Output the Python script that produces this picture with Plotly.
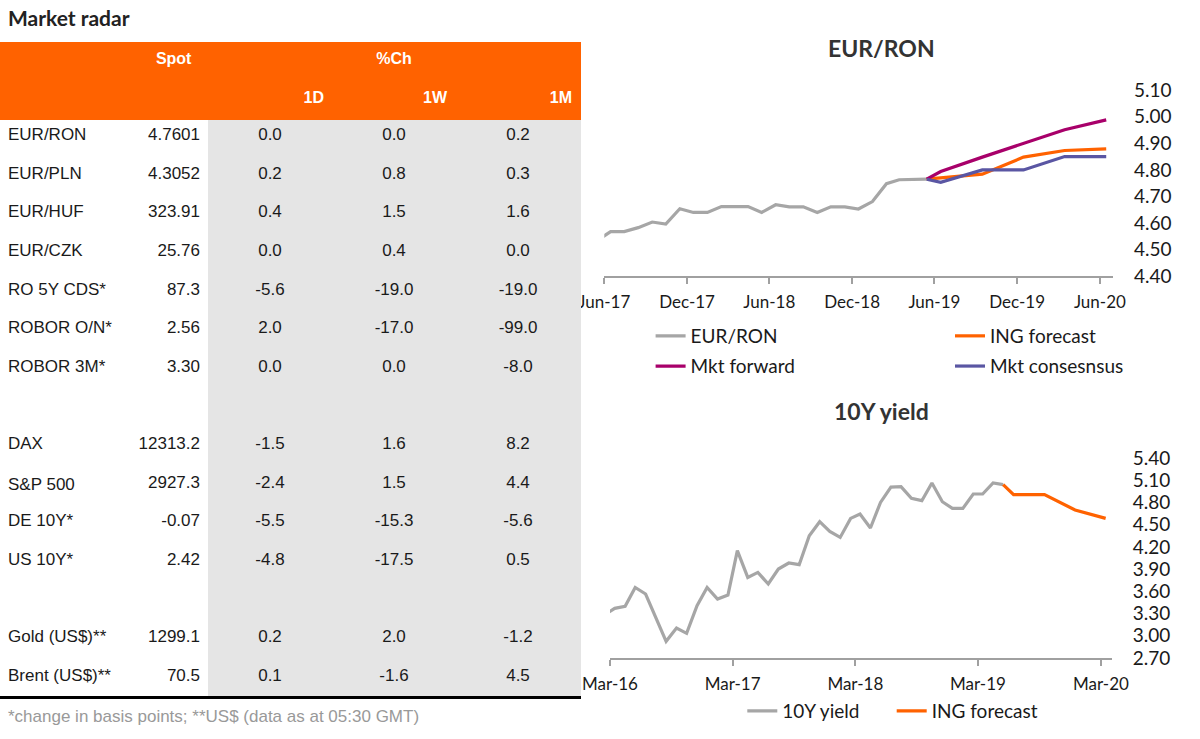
import pandas as pd
import plotly.graph_objects as go

# ---------------- Table data ----------------
row_labels = ["EUR/RON", "EUR/PLN", "EUR/HUF", "EUR/CZK", "RO 5Y CDS*", "ROBOR O/N*",
              "ROBOR 3M*", "", "DAX", "S&P 500", "DE 10Y*", "US 10Y*", "",
              "Gold (US$)**", "Brent (US$)**"]
spot = ["4.7601", "4.3052", "323.91", "25.76", "87.3", "2.56", "3.30", "",
        "12313.2", "2927.3", "-0.07", "2.42", "", "1299.1", "70.5"]
chg_1d = [0.0, 0.2, 0.4, 0.0, -5.6, 2.0, 0.0, None, -1.5, -2.4, -5.5, -4.8, None, 0.2, 0.1]
chg_1w = [0.0, 0.8, 1.5, 0.4, -19.0, -17.0, 0.0, None, 1.6, 1.5, -15.3, -17.5, None, 2.0, -1.6]
chg_1m = [0.2, 0.3, 1.6, 0.0, -19.0, -99.0, -8.0, None, 8.2, 4.4, -5.6, 0.5, None, -1.2, 4.5]
header_top = ["", "Spot", "", "%Ch", ""]
header_sub = ["", "", "1D", "1W", "1M"]

# ---------------- EUR/RON chart data ----------------
eurron_dates = pd.date_range("2017-05-01", "2019-05-01", freq="MS") + pd.Timedelta(days=14)
eurron_hist = [4.533, 4.568, 4.568, 4.583, 4.604, 4.596, 4.654, 4.640,
               4.640, 4.662, 4.662, 4.662, 4.640, 4.669, 4.661, 4.661, 4.640, 4.661, 4.661, 4.653,
               4.681, 4.748, 4.763, 4.765, 4.765]
eurron_fc_dates = ["2019-05-15", "2019-06-15", "2019-09-15", "2019-12-15", "2020-03-15", "2020-06-15"]
ing_forecast = [4.765, 4.770, 4.784, 4.848, 4.873, 4.879]
mkt_forward = [4.765, 4.794, 4.848, 4.901, 4.951, 4.988]
mkt_consensus = [4.765, 4.753, 4.800, 4.800, 4.850, 4.850]

# ---------------- 10Y yield chart data ----------------
y10_dates = pd.date_range("2016-02-01", "2019-05-01", freq="MS") + pd.Timedelta(days=14)
y10_hist = [3.285, 3.370, 3.397, 3.653, 3.564, 3.249, 2.925, 3.105, 3.033, 3.406, 3.653,
            3.496, 3.550, 4.149, 3.788, 3.856, 3.699, 3.901, 3.982, 3.960, 4.351, 4.540, 4.409,
            4.328, 4.585, 4.644, 4.455, 4.801, 5.008, 5.013, 4.855, 4.824, 5.063, 4.810, 4.720,
            4.720, 4.914, 4.914, 5.063, 5.040]
y10_fc_dates = ["2019-05-15", "2019-06-15", "2019-09-15", "2019-12-15", "2020-03-15"]
y10_forecast = [5.040, 4.905, 4.905, 4.698, 4.585]

# ---------------- colours ----------------
ORANGE = "#ff6200"
GREY_LINE = "#a6a6a6"
MAGENTA = "#a8006a"
BLUE = "#5a56a3"
CELL_GREY = "#e5e5e5"
TXT = "#1a1a1a"

W, H = 1200, 739


def px_x(p):
    return p / W


def px_y(p):
    return 1 - p / H


fig = go.Figure()

# ---------------- Table ----------------
def fmt(v):
    return "" if v is None else f"{v:.1f}"

TABLE_FONT = "Liberation Sans, Arial"
col_widths = [140, 68, 124, 124, 124]
col_values = [row_labels, spot,
              [fmt(v) for v in chg_1d], [fmt(v) for v in chg_1w], [fmt(v) for v in chg_1m]]
fill_cols = ["white", "white", CELL_GREY, CELL_GREY, CELL_GREY]
T0 = 42  # top of table, px

# top header row (Spot / %Ch)
fig.add_trace(go.Table(
    domain=dict(x=[0, px_x(580)], y=[px_y(T0 + 38.8), px_y(T0)]),
    columnwidth=col_widths,
    header=dict(
        values=["<b>" + h + "</b>" if h else "" for h in header_top],
        fill_color=ORANGE, line=dict(color=ORANGE, width=1),
        align="center",
        font=dict(family=TABLE_FONT, size=16, color="white"),
        height=38.8,
    ),
    cells=dict(values=[[] for _ in range(5)], height=1, line=dict(width=0),
               fill_color="white"),
))

# second header row (1D / 1W / 1M) and body
fig.add_trace(go.Table(
    domain=dict(x=[0, px_x(580)], y=[px_y(712), px_y(T0 + 38.8)]),
    columnwidth=col_widths,
    header=dict(
        values=["<b>" + h + "</b>" if h else "" for h in header_sub],
        fill_color=ORANGE, line=dict(color=ORANGE, width=1),
        align=["left", "center", "right", "right", "right"],
        font=dict(family=TABLE_FONT, size=16, color="white"),
        height=38.6,
    ),
    cells=dict(
        values=col_values,
        fill_color=fill_cols,
        line=dict(color=fill_cols, width=1),
        align=["left", "right", "center", "center", "center"],
        font=dict(family=TABLE_FONT, size=17, color=TXT),
        height=38.6,
    ),
))

# ---------------- EUR/RON lines ----------------
fig.add_trace(go.Scatter(x=eurron_dates, y=eurron_hist, mode="lines", name="EUR/RON",
                         line=dict(color=GREY_LINE, width=3.2), xaxis="x", yaxis="y",
                         legend="legend", legendgroup="a1"))
fig.add_trace(go.Scatter(x=eurron_fc_dates, y=ing_forecast, mode="lines", name="ING forecast",
                         line=dict(color=ORANGE, width=3.2), xaxis="x", yaxis="y",
                         legend="legend2", legendgroup="a2"))
fig.add_trace(go.Scatter(x=eurron_fc_dates, y=mkt_forward, mode="lines", name="Mkt forward",
                         line=dict(color=MAGENTA, width=3.2), xaxis="x", yaxis="y",
                         legend="legend", legendgroup="a3"))
fig.add_trace(go.Scatter(x=eurron_fc_dates, y=mkt_consensus, mode="lines", name="Mkt consesnsus",
                         line=dict(color=BLUE, width=3.2), xaxis="x", yaxis="y",
                         legend="legend2", legendgroup="a4"))

# ---------------- 10Y lines ----------------
fig.add_trace(go.Scatter(x=y10_dates, y=y10_hist, mode="lines", name="10Y yield",
                         line=dict(color=GREY_LINE, width=3.2), xaxis="x2", yaxis="y2",
                         legend="legend3"))
fig.add_trace(go.Scatter(x=y10_fc_dates, y=y10_forecast, mode="lines", name="ING forecast",
                         line=dict(color=ORANGE, width=3.2), xaxis="x2", yaxis="y2",
                         legend="legend4"))

CHART_FONT = "Lato, Noto Sans, sans-serif"
xaxis_common = dict(type="date", showline=True, linecolor="#a0a0a0", linewidth=1.5,
                    ticks="outside", ticklen=6, tickwidth=1.5, tickcolor="#a0a0a0",
                    showgrid=False, zeroline=False, tickformat="%b-%y", ticklabelstandoff=4,
                    tickfont=dict(family=CHART_FONT, size=17, color=TXT))
yaxis_common = dict(side="right", showline=False, ticks="", showgrid=False, zeroline=False,
                    tickformat=".2f", ticklabelstandoff=20,
                    tickfont=dict(family=CHART_FONT, size=19, color=TXT))

legend_common = dict(orientation="v", xanchor="left", yanchor="top", bgcolor="rgba(0,0,0,0)",
                     font=dict(family=CHART_FONT, size=19, color=TXT), tracegroupgap=2.5,
                     itemclick=False, itemdoubleclick=False)

fig.update_layout(
    width=W, height=H,
    margin=dict(l=0, r=0, t=0, b=0, autoexpand=False),
    paper_bgcolor="white", plot_bgcolor="white",
    font=dict(family=CHART_FONT, color=TXT),
    xaxis=dict(domain=[px_x(604.3), px_x(1113)], range=["2017-06-01", "2020-06-30"],
               tick0="2017-06-01", dtick="M6", anchor="y", **xaxis_common),
    yaxis=dict(domain=[px_y(276.3), px_y(76.8)], range=[4.40, 5.15], tick0=4.4, dtick=0.1,
               anchor="x", **yaxis_common),
    xaxis2=dict(domain=[px_x(610), px_x(1111.7)], range=["2016-03-01", "2020-04-02"],
                tick0="2016-03-01", dtick="M12", anchor="y2", **xaxis_common),
    yaxis2=dict(domain=[px_y(658), px_y(446.9)], range=[2.70, 5.55], tick0=2.7, dtick=0.3,
                anchor="x2", **yaxis_common),
    legend=dict(x=px_x(650.6), y=px_y(317), **legend_common),
    legend2=dict(x=px_x(950), y=px_y(317), **legend_common),
    legend3=dict(x=px_x(742.3), y=px_y(692), **legend_common),
    legend4=dict(x=px_x(891.7), y=px_y(692), **legend_common),
    showlegend=True,
)

# titles and notes
fig.add_annotation(text="<b>Market radar</b>", x=px_x(6), y=px_y(18), xref="paper", yref="paper",
                   xanchor="left", yanchor="middle", showarrow=False,
                   font=dict(family=CHART_FONT, size=21, color="#222222"))
fig.add_annotation(text="<b>EUR/RON</b>", x=px_x(881), y=px_y(48), xref="paper", yref="paper",
                   xanchor="center", yanchor="middle", showarrow=False,
                   font=dict(family=CHART_FONT, size=23, color="#333333"))
fig.add_annotation(text="<b>10Y yield</b>", x=px_x(881), y=px_y(411), xref="paper", yref="paper",
                   xanchor="center", yanchor="middle", showarrow=False,
                   font=dict(family=CHART_FONT, size=23, color="#333333"))
fig.add_annotation(text="*change in basis points; **US$ (data as at 05:30 GMT)",
                   x=px_x(6), y=px_y(716), xref="paper", yref="paper",
                   xanchor="left", yanchor="middle", showarrow=False,
                   font=dict(family=TABLE_FONT, size=17, color="#999999"))
fig.add_shape(type="line", xref="paper", yref="paper", x0=0, x1=px_x(581),
              y0=px_y(697.5), y1=px_y(697.5), line=dict(color="black", width=3))

fig.write_html("out.html", config={"displayModeBar": False},
               post_script="document.body.style.margin='0';")
